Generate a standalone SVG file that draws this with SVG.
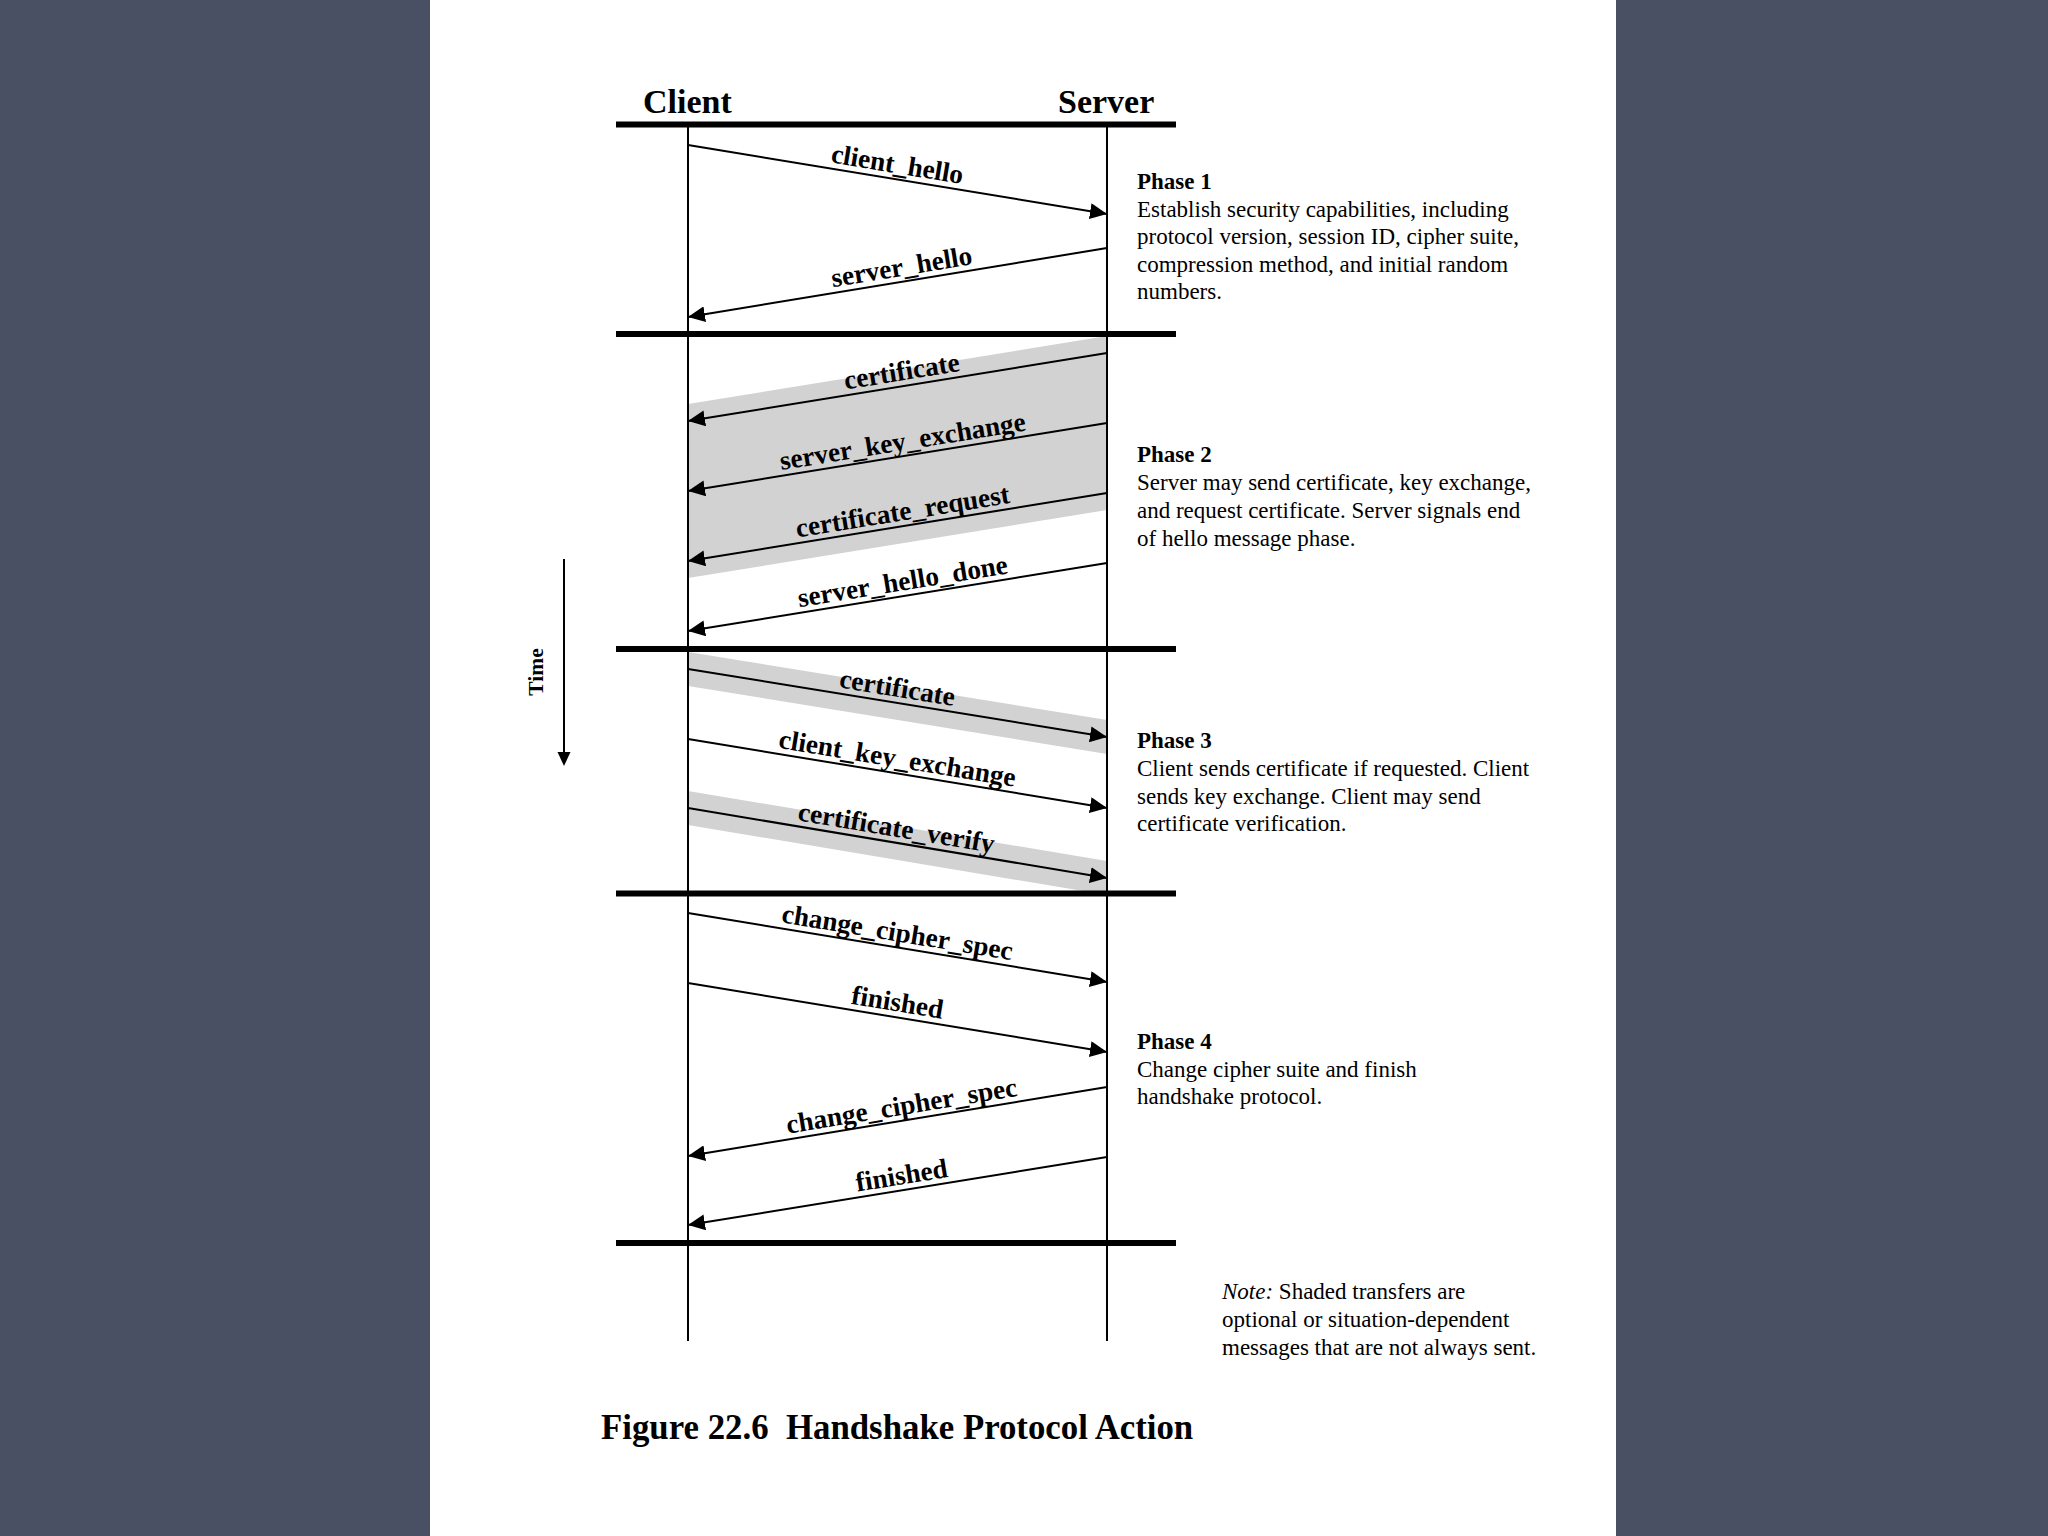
<svg xmlns="http://www.w3.org/2000/svg" width="2048" height="1536" viewBox="0 0 2048 1536">
<defs>
<marker id="ah" markerUnits="userSpaceOnUse" markerWidth="18" markerHeight="16" refX="17" refY="8" orient="auto">
<path d="M0,0 L17,8 L0,16 z" fill="#000"/>
</marker>
<style>
.bar{stroke:#000;stroke-width:6}
.life{stroke:#000;stroke-width:2}
.msg{stroke:#000;stroke-width:2;fill:none;marker-end:url(#ah)}
.band{fill:#d2d2d2}
.lbl{font-family:"Liberation Serif","Times New Roman",serif;font-weight:bold;font-size:27.3px;text-anchor:middle;fill:#000}
.hdr{font-family:"Liberation Serif","Times New Roman",serif;font-weight:bold;font-size:34px;fill:#000}
.ph{font-family:"Liberation Serif","Times New Roman",serif;font-size:23px;fill:#000}
.phb{font-weight:bold}
</style>
</defs>
<rect width="2048" height="1536" fill="#4a5064"/>
<rect x="430" y="0" width="1186" height="1536" fill="#fff"/>

<g id="shading">
<polygon class="band" points="688,404 1107,336 1107,510 688,578"/>
<polygon class="band" points="688,652 1107,720 1107,754 688,686"/>
<polygon class="band" points="688,791 1107,861 1107,895 688,825"/>
</g>

<g id="client">
<text class="hdr" x="643" y="113">Client</text>
<line class="life" x1="688" y1="124" x2="688" y2="1341"/>
</g>
<g id="server">
<text class="hdr" x="1058" y="113">Server</text>
<line class="life" x1="1107" y1="124" x2="1107" y2="1341"/>
</g>

<g id="phase-bars">
<line class="bar" x1="616" y1="124.5" x2="1176" y2="124.5"/>
<line class="bar" x1="616" y1="334" x2="1176" y2="334"/>
<line class="bar" x1="616" y1="649" x2="1176" y2="649"/>
<line class="bar" x1="616" y1="893.5" x2="1176" y2="893.5"/>
<line class="bar" x1="616" y1="1243" x2="1176" y2="1243"/>
</g>

<g id="connectors">
<line class="msg" x1="688" y1="145" x2="1107" y2="214"/>
<line class="msg" x1="1107" y1="248" x2="688" y2="317"/>
<line class="msg" x1="1107" y1="353" x2="688" y2="421"/>
<line class="msg" x1="1107" y1="423" x2="688" y2="491"/>
<line class="msg" x1="1107" y1="493" x2="688" y2="561"/>
<line class="msg" x1="1107" y1="563" x2="688" y2="631"/>
<line class="msg" x1="688" y1="669" x2="1107" y2="737"/>
<line class="msg" x1="688" y1="739" x2="1107" y2="808"/>
<line class="msg" x1="688" y1="808" x2="1107" y2="878"/>
<line class="msg" x1="688" y1="913" x2="1107" y2="982"/>
<line class="msg" x1="688" y1="983" x2="1107" y2="1052"/>
<line class="msg" x1="1107" y1="1087" x2="688" y2="1156"/>
<line class="msg" x1="1107" y1="1157" x2="688" y2="1225"/>
</g>

<g id="labels">
<text class="lbl" transform="translate(895,179.1) rotate(9.35)" y="-6">client_hello</text>
<text class="lbl" transform="translate(904,281.6) rotate(-9.35)" y="-6">server_hello</text>
<text class="lbl" transform="translate(904,386.1) rotate(-9.2)" y="-6">certificate</text>
<text class="lbl" transform="translate(905,456.1) rotate(-9.2)" y="-6">server_key_exchange</text>
<text class="lbl" transform="translate(905,526.1) rotate(-9.2)" y="-6">certificate_request</text>
<text class="lbl" transform="translate(905,596.1) rotate(-9.2)" y="-6">server_hello_done</text>
<text class="lbl" transform="translate(895,702.6) rotate(9.2)" y="-6">certificate</text>
<text class="lbl" transform="translate(895,773.1) rotate(9.35)" y="-6">client_key_exchange</text>
<text class="lbl" transform="translate(894,842.6) rotate(9.5)" y="-6">certificate_verify</text>
<text class="lbl" transform="translate(895,947.1) rotate(9.35)" y="-6">change_cipher_spec</text>
<text class="lbl" transform="translate(895,1017.1) rotate(9.35)" y="-6">finished</text>
<text class="lbl" transform="translate(904,1120.6) rotate(-9.35)" y="-6">change_cipher_spec</text>
<text class="lbl" transform="translate(904,1190.1) rotate(-9.2)" y="-6">finished</text>
</g>

<g id="phase1">
<text class="ph"><tspan class="phb" x="1137" y="189">Phase 1</tspan><tspan x="1137" y="216.5">Establish security capabilities, including</tspan><tspan x="1137" y="244">protocol version, session ID, cipher suite,</tspan><tspan x="1137" y="271.5">compression method, and initial random</tspan><tspan x="1137" y="299">numbers.</tspan></text>
</g>
<g id="phase2">
<text class="ph"><tspan class="phb" x="1137" y="462">Phase 2</tspan><tspan x="1137" y="490">Server may send certificate, key exchange,</tspan><tspan x="1137" y="518">and request certificate. Server signals end</tspan><tspan x="1137" y="546">of hello message phase.</tspan></text>
</g>
<g id="phase3">
<text class="ph"><tspan class="phb" x="1137" y="748">Phase 3</tspan><tspan x="1137" y="776">Client sends certificate if requested. Client</tspan><tspan x="1137" y="804">sends key exchange. Client may send</tspan><tspan x="1137" y="831">certificate verification.</tspan></text>
</g>
<g id="phase4">
<text class="ph"><tspan class="phb" x="1137" y="1049">Phase 4</tspan><tspan x="1137" y="1077">Change cipher suite and finish</tspan><tspan x="1137" y="1104">handshake protocol.</tspan></text>
</g>

<g id="time">
<line class="life" x1="564" y1="559" x2="564" y2="754"/>
<polygon points="564,766 557.5,752 570.5,752" fill="#000"/>
<text transform="translate(543,672) rotate(-90)" text-anchor="middle" font-family="Liberation Serif, Times New Roman, serif" font-weight="bold" font-size="21.5">Time</text>
</g>

<g id="note">
<text class="ph"><tspan x="1222" y="1299"><tspan font-style="italic">Note:</tspan> Shaded transfers are</tspan><tspan x="1222" y="1327">optional or situation-dependent</tspan><tspan x="1222" y="1355">messages that are not always sent.</tspan></text>
</g>

<g id="caption">
<text x="601" y="1439" font-family="Liberation Serif, Times New Roman, serif" font-weight="bold" font-size="34.8">Figure 22.6&#160; Handshake Protocol Action</text>
</g>
</svg>
